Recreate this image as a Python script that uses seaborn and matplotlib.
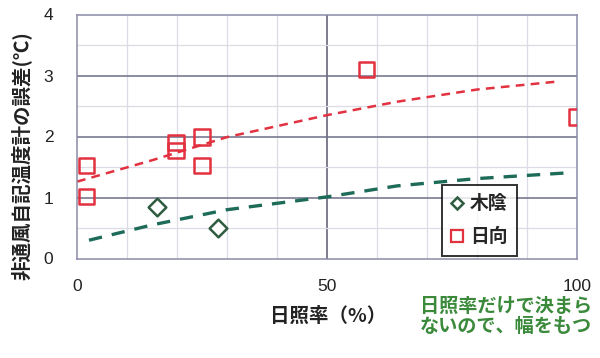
import matplotlib
matplotlib.use("Agg")
import matplotlib.pyplot as plt
from matplotlib.lines import Line2D
import seaborn as sns
import pandas as pd

# ---- data ----
shade_x = [16.0, 28.1]          # 木陰
shade_y = [0.84, 0.50]
sun_x = [1.9, 1.9, 19.8, 19.8, 25.0, 25.0, 57.9, 100.0]   # 日向
sun_y = [1.53, 1.02, 1.90, 1.77, 1.99, 1.52, 3.10, 2.32]

sun_trend_x = [0, 15, 30, 50, 64, 80, 96]
sun_trend_y = [1.26, 1.61, 1.99, 2.35, 2.57, 2.77, 2.90]
shade_trend_x = [2.4, 15, 30, 50, 64, 80, 97.3]
shade_trend_y = [0.30, 0.55, 0.80, 1.01, 1.19, 1.31, 1.40]

x_ticks = [0, 50, 100]
y_ticks = [0, 1, 2, 3, 4]
series_labels = ["木陰", "日向"]

sns.set_theme(style="white")
plt.rcParams["font.family"] = ["Liberation Sans", "Noto Sans CJK JP", "DejaVu Sans"]
JP = ["Noto Sans CJK JP", "DejaVu Sans"]

RED = "#e2313f"
GREEN_LINE = "#1d6b58"
GREEN_MK = "#2f5c40"
TEXT_GREEN = "#3b8a3c"

fig = plt.figure(figsize=(6.0, 3.58), dpi=100)
ax = fig.add_axes([77 / 600, 1 - 258.5 / 358, 500 / 600, 244 / 358])

# grid
for gx in range(10, 100, 10):
    major = gx == 50
    ax.axvline(gx, color="#5a5a70" if major else "#dcdce6",
               lw=1.1 if major else 0.9, zorder=0)
for gy in [0.5, 1, 1.5, 2, 2.5, 3, 3.5]:
    major = float(gy).is_integer()
    ax.axhline(gy, color="#6e6e88" if major else "#dcdce6",
               lw=1.1 if major else 0.9, zorder=0)

# trend lines
sns.lineplot(x=sun_trend_x, y=sun_trend_y, ax=ax, color=RED, lw=1.8,
             linestyle=(0, (3.5, 2.5)), zorder=2, sort=False)
sns.lineplot(x=shade_trend_x, y=shade_trend_y, ax=ax, color=GREEN_LINE, lw=2.4,
             linestyle=(0, (4, 3)), zorder=2, sort=False)

# points
sns.scatterplot(x=sun_x, y=sun_y, ax=ax, marker="s", s=11.0 ** 2,
                facecolor="none", edgecolor=RED, linewidth=1.8, zorder=3)
sns.scatterplot(x=shade_x, y=shade_y, ax=ax, marker="D", s=9.0 ** 2,
                facecolor="white", edgecolor=GREEN_MK, linewidth=1.8, zorder=3)

ax.set_xlim(0, 100)
ax.set_ylim(0, 4)
ax.set_xticks(x_ticks)
ax.set_yticks(y_ticks)
ax.tick_params(axis="both", length=0, labelsize=12.5, colors="#222222")
ax.tick_params(axis="x", pad=15)
ax.tick_params(axis="y", pad=17)
for side in ["left", "bottom", "top", "right"]:
    ax.spines[side].set_color("#8a8aa8")
    ax.spines[side].set_linewidth(1.1)
ax.set_xlabel("")
ax.set_ylabel("")

# legend
handles = [
    Line2D([], [], marker="D", linestyle="none", markersize=6,
           markerfacecolor="white", markeredgecolor=GREEN_MK, markeredgewidth=1.8),
    Line2D([], [], marker="s", linestyle="none", markersize=8,
           markerfacecolor="white", markeredgecolor=RED, markeredgewidth=1.6),
]
leg = ax.legend(handles, series_labels, loc="upper left",
                bbox_to_anchor=((441.7 - 77) / 500, 1 - (185 - 14.5) / 244),
                prop={"family": JP, "weight": "bold", "size": 13.5},
                frameon=True, fancybox=False, handlelength=0.6, handletextpad=0.4,
                borderpad=0.5, labelspacing=0.75, borderaxespad=0)
leg.get_frame().set_edgecolor("black")
leg.get_frame().set_linewidth(1.4)

# axis labels
fig.text(328 / 600, 1 - 316 / 358, "日照率（%）", ha="center", va="center",
         family=JP, weight="bold", size=14, color="#222222")
fig.text(21 / 600, 1 - 156 / 358, "非通風自記温度計の誤差(℃)", ha="center", va="center",
         rotation=90, family=JP, weight="bold", size=14, color="#222222")

# annotation
fig.text(420 / 600, 1 - 297 / 358, "日照率だけで決まら\nないので、幅をもつ",
         ha="left", va="top", family=JP, weight="bold", size=13.8,
         color=TEXT_GREEN, linespacing=1.05)

fig.savefig("out.png", dpi=100)
